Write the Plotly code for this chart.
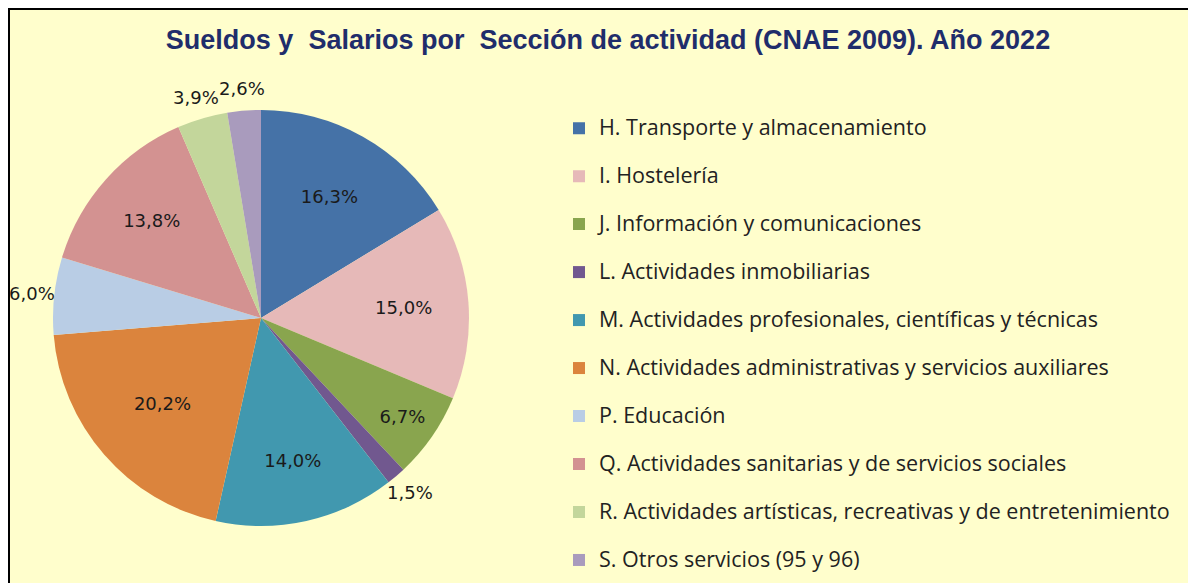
import math
import plotly.graph_objects as go

categories = [
    "H. Transporte y almacenamiento",
    "I. Hostelería",
    "J. Información y comunicaciones",
    "L. Actividades inmobiliarias",
    "M. Actividades profesionales, científicas y técnicas",
    "N. Actividades administrativas y servicios auxiliares",
    "P. Educación",
    "Q. Actividades sanitarias y de servicios sociales",
    "R. Actividades artísticas, recreativas y de entretenimiento",
    "S. Otros servicios (95 y 96)",
]
values = [16.3, 15.0, 6.7, 1.5, 14.0, 20.2, 6.0, 13.8, 3.9, 2.6]
colors = ["#4572A7", "#E6B9B8", "#89A54E", "#71588F", "#4198AF",
          "#DB843D", "#B9CDE5", "#D39291", "#C3D69B", "#A99BBD"]
text_pos = ["inside", "inside", "inside", "outside", "inside",
            "inside", "outside", "inside", "outside", "outside"]

W, H = 1196, 583
OX, OY = 8, 8          # page offset of the figure (body margin)
cx, cy, r = 261, 318, 208   # pie centre / radius in page pixels


def px(x):
    return (x - OX) / W


def py(y):
    return 1 - (y - OY) / H


LABEL_FONT = dict(family="DejaVu Sans, Open Sans, sans-serif", size=18, color="#1a1a1a")

legend_labels = ["<span style='font-size:21.5px'>" + c + "</span><br> " for c in categories]

fig = go.Figure(go.Pie(
    labels=legend_labels,
    values=values,
    sort=False,
    direction="clockwise",
    rotation=0,
    marker=dict(colors=colors, line=dict(width=0)),
    texttemplate="%{value:.1f}%",
    textposition=["inside" if p == "inside" else "none" for p in text_pos],
    insidetextorientation="horizontal",
    textfont=LABEL_FONT,
    domain=dict(x=[px(cx - r), px(cx + r)], y=[py(cy + r), py(cy - r)]),
    hoverinfo="skip",
))

# outside labels placed radially beyond the slice middle (computed from values)
total = sum(values)
cum = 0.0
annotations = []
for v, p in zip(values, text_pos):
    mid = (cum + v / 2) / total * 2 * math.pi
    cum += v
    if p != "outside":
        continue
    d = r + 22
    ax = cx + math.sin(mid) * d
    ay = cy - math.cos(mid) * d
    annotations.append(dict(
        x=px(ax), y=py(ay), xref="paper", yref="paper",
        text=f"{v:.1f}%".replace(".", ","), showarrow=False,
        xanchor="center", yanchor="middle", font=LABEL_FONT,
    ))

fig.update_layout(
    width=W, height=H,
    paper_bgcolor="white",
    plot_bgcolor="white",
    separators=",.",
    margin=dict(l=0, r=0, t=0, b=0, autoexpand=False),
    title=dict(
        text="<b>Sueldos y  Salarios por  Sección de actividad (CNAE 2009). Año 2022</b>",
        x=px(608), xanchor="center", y=py(40), yanchor="middle",
        font=dict(family="Liberation Sans, Arial, sans-serif", size=27, color="#1F2D6B"),
    ),
    legend=dict(
        x=px(559), xanchor="left", y=py(110.4), yanchor="top",
        font=dict(family="Open Sans, Noto Sans, sans-serif", size=17.3, color="#222222"),
        valign="top",
        bgcolor="rgba(0,0,0,0)",
        itemclick=False,
    ),
    annotations=annotations,
    shapes=[dict(
        type="rect", xref="paper", yref="paper",
        x0=1 / W, x1=1.01, y0=-0.01, y1=1 - 1 / H,
        fillcolor="#FFFECC", line=dict(color="black", width=2), layer="below",
    )],
)

fig.write_html("out.html")
